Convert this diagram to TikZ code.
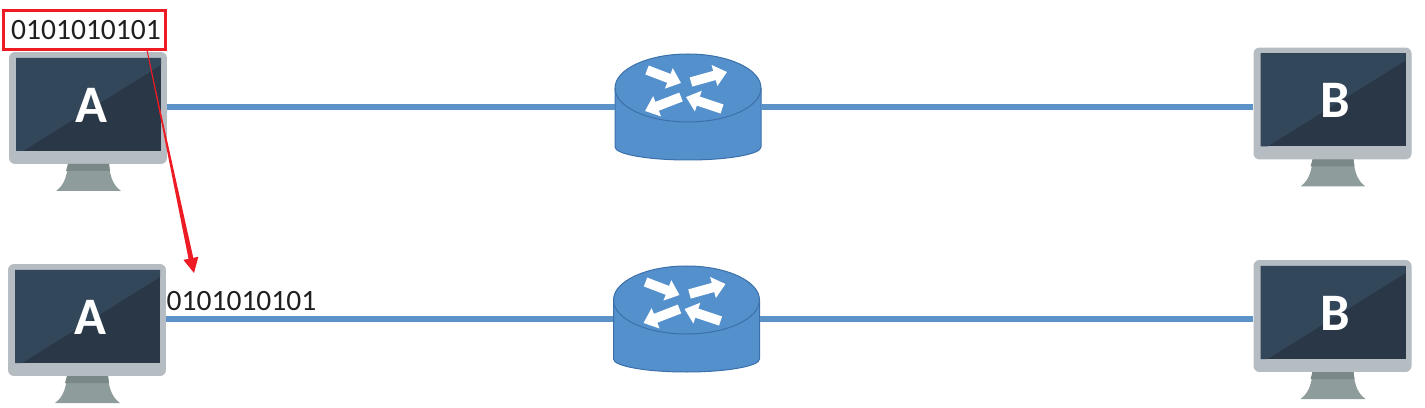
\documentclass[tikz,border=0pt]{standalone}
\usepackage{fontspec}
\setmainfont{Carlito}
\usetikzlibrary{calc,arrows.meta,positioning}

\definecolor{casecolor}{RGB}{181,188,194}   % Monitor case
\definecolor{screendark}{RGB}{42,55,70}     % Screen, lower right
\definecolor{screenlight}{RGB}{51,71,91}    % Screen, upper left
\definecolor{standcolor}{RGB}{143,156,156}  % Monitor stand
\definecolor{bandcolor}{RGB}{122,136,136}   % Stand, top band
\definecolor{routercolor}{RGB}{84,144,204}  % Router body
\definecolor{routeredge}{RGB}{60,112,170}   % Router outline
\definecolor{wirecolor}{RGB}{91,146,200}    % Links
\definecolor{markcolor}{RGB}{237,28,36}     % Red box and arrow

\tikzset{
  wire/.style={wirecolor, line width=0.13cm},
  bits/.style={inner sep=0pt, text=black!88, font=\fontsize{16.8}{18}\selectfont},
  flowarrow/.style={white, line width=0.19cm, -{Triangle[length=0.26cm,width=0.42cm]}},
  pics/monitor/.style={code={
    \node[rectangle, rounded corners=0.12cm, fill=casecolor, inner sep=0pt,
          minimum width=3.16cm, minimum height=2.24cm] (-body) at (0,0) {};
    % Stand
    \fill[standcolor] (-20,56) .. controls (-21,70) and (-25,78) .. (-32,83)
      -- (33,83) .. controls (26,78) and (22,70) .. (21,56) -- cycle;
    \fill[bandcolor] (-20,56) -- (21,56) -- (22,63) -- (-22,63) -- cycle;
    % Screen
    \fill[screendark] (-72,-50) rectangle (73,43);
    \fill[screenlight] (-72,-50) -- (73,-50) -- (73,-43) -- (-65,43) -- (-72,43) -- cycle;
    \node[text=white, inner sep=0pt, font=\fontsize{30}{30}\selectfont\bfseries] (-name) at (3,-3) {#1};
  }},
  pics/router/.style={code={
    \node[rectangle, inner sep=0pt, minimum width=2.92cm, minimum height=2.12cm] (-body) at (0,0) {};
    % Drum
    \filldraw[fill=routercolor, draw=routeredge, line width=0.02cm]
      (-73,-19) -- (-73,40) arc[start angle=180, end angle=0, x radius=73, y radius=13]
      -- (73,-19) arc[start angle=0, end angle=-180, x radius=73, y radius=34] -- cycle;
    \draw[routeredge, line width=0.02cm]
      (-73,-19) arc[start angle=180, end angle=0, x radius=73, y radius=34];
    % Arrows on top
    \draw[flowarrow] (-41,-37) -- (-7,-24);
    \draw[flowarrow] (3,-25) -- (39,-35);
    \draw[flowarrow] (-7,-10) -- (-43,4);
    \draw[flowarrow] (34,2) -- (-2,-10);
  }}
}

\begin{document}
\begin{tikzpicture}[x=0.02cm, y=-0.02cm]
  \useasboundingbox (0,0) rectangle (1425,408);

  % Upper row
  \pic (a1) at (88,108) {monitor=A};
  \pic (r1) at (688,107) {router};
  \pic (b1) at (1332.5,103.5) {monitor=B};

  % Lower row
  \pic (a2) at (87,320) {monitor=A};
  \pic (r2) at (686.5,319) {router};
  \pic (b2) at (1332.5,316) {monitor=B};

  % Links
  \draw[wire] (a1-body.east |- r1-body.west) -- (r1-body.west);
  \draw[wire] (r1-body.east) -- (b1-body.west |- r1-body.east);
  \draw[wire] (a2-body.east |- r2-body.west) -- (r2-body.west);
  \draw[wire] (r2-body.east) -- (b2-body.west |- r2-body.east);

  % Bit strings
  \node[bits, draw=markcolor, fill=white, line width=0.06cm, inner xsep=0.08cm,
        minimum width=3.24cm, minimum height=0.78cm] (word1) at (84.5,30) {\hspace*{0.06cm}0101010101};
  \node[bits] (word2) at (241.5,301) {0101010101};

  % Red arrow, getting wider towards the tip
  \coordinate (tail) at ($(word1.south east)!0.12!(word1.south west)$);
  \coordinate (tip) at (194,273);
  \fill[markcolor] (tail) -- ($(tail)!0.94!(tip)+(2.5,0)$) -- ($(tail)!0.94!(tip)+(-2.5,0)$) -- cycle;
  \draw[markcolor, line width=0.02cm, -{Triangle[length=0.3cm,width=0.3cm]}] (tail) -- (tip);

\end{tikzpicture}
\end{document}
